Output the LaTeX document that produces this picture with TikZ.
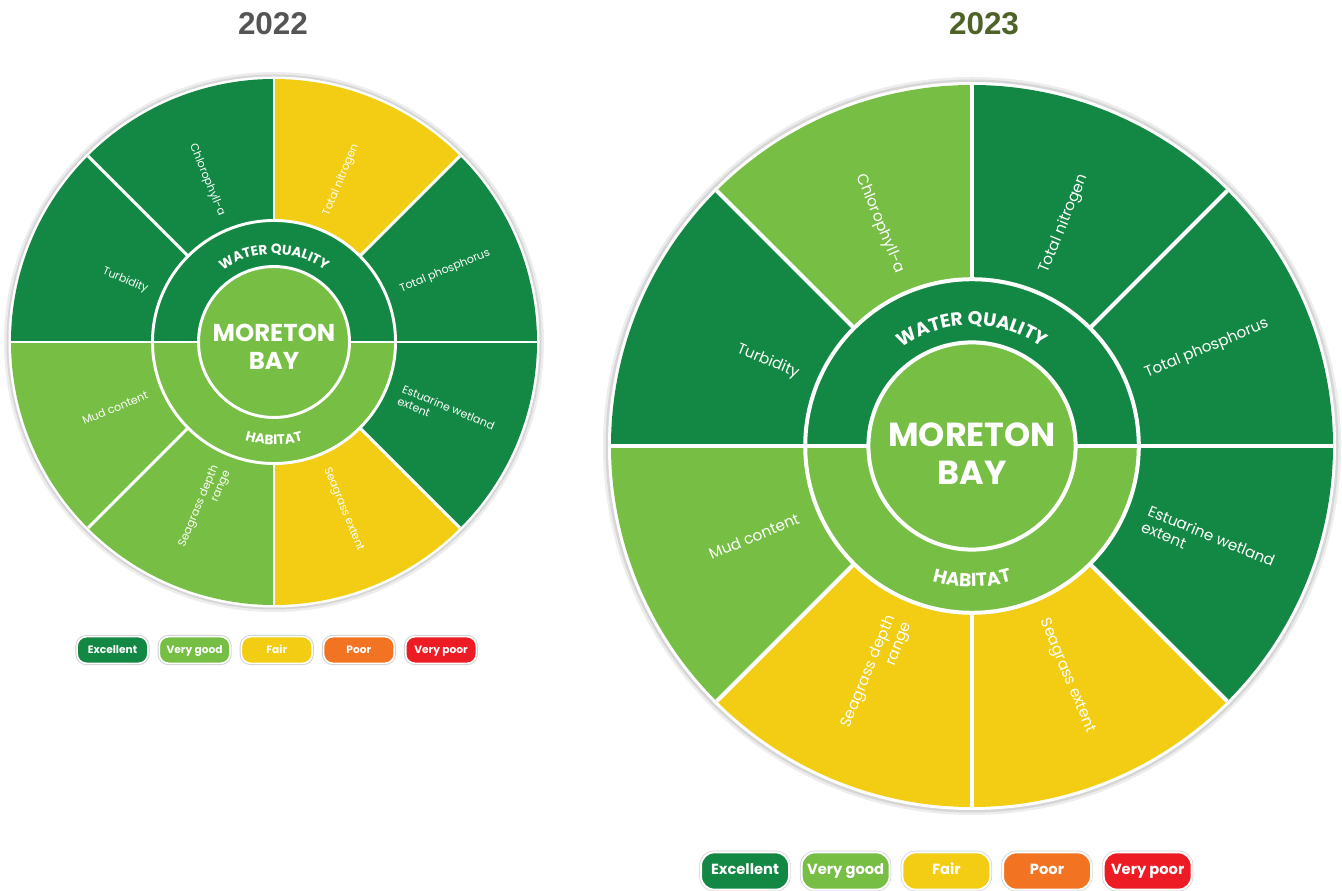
\documentclass[tikz,border=0pt]{standalone}
\usepackage{fontspec}
\setmainfont{Poppins}
\newfontfamily\titlefont{Liberation Sans}
\usepackage{tikz}
\usetikzlibrary{positioning}
\usetikzlibrary{decorations.text}

\definecolor{cExcellent}{RGB}{19,136,68}
\definecolor{cVeryGood}{RGB}{119,190,68}
\definecolor{cFair}{RGB}{242,205,20}
\definecolor{cPoor}{RGB}{242,115,33}
\definecolor{cVeryPoor}{RGB}{237,28,36}
\definecolor{grey22}{RGB}{85,85,85}
\definecolor{olive23}{RGB}{79,98,40}

\begin{document}
\begin{tikzpicture}[x=0.75pt,y=0.75pt,
  spoke/.style={draw=white,line width=#1},
  lbl/.style={text=white,inner sep=0pt},
  pill/.style={fill=#1,draw=white,text=white,inner sep=0pt,text height=0.72em,text depth=0.2em,preaction={draw=black!18,line width=2.6pt}},
  pill22/.style={pill=#1,minimum width=53pt,minimum height=20pt,rounded corners=7pt,line width=1.2pt,font=\bfseries\fontsize{8}{9}\selectfont},
  pill23/.style={pill=#1,minimum width=66pt,minimum height=28pt,rounded corners=10pt,line width=1.5pt,font=\bfseries\fontsize{11}{12}\selectfont},
  title/.style={font=\titlefont\bfseries\fontsize{23.6}{24}\selectfont}]
\useasboundingbox (0,0) rectangle (1342,890);

% 2022
\node[title,text=grey22] (t22) at (273,866) {2022};
\begin{scope}[shift={(274,548)},lbl22/.style={lbl,font=\fontsize{8.3}{9.6}\selectfont}]
 \def\R{263}
 \fill[black!7](0,0) circle[radius=\R+7];
 \fill[black!16](0,0) circle[radius=\R+4.5];
 \fill[white](0,0) circle[radius=\R+2.5];
 \foreach \a/\c in {0/cExcellent,45/cFair,90/cExcellent,135/cExcellent,180/cVeryGood,225/cVeryGood,270/cFair,315/cExcellent}
  \fill[\c](0,0)--(\a:\R) arc[start angle=\a,delta angle=45,radius=\R]--cycle;
 \foreach \a in {0,45,...,315}
  \draw[spoke=2.2pt](0,0)--(\a:\R);
 \fill[cExcellent](0.462*\R,0) arc[start angle=0,end angle=180,radius=0.462*\R]--cycle;
 \fill[cVeryGood](0.462*\R,0) arc[start angle=0,end angle=-180,radius=0.462*\R]--cycle;
 \draw[spoke=2.2pt](0,0) circle[radius=0.462*\R];
 \draw[spoke=2.2pt](-0.462*\R,0)--(0.462*\R,0);
 \draw[spoke=2.2pt,fill=cVeryGood](0,0) circle[radius=0.287*\R];
 \node[text=white,align=center,font=\bfseries\fontsize{18.3}{21}\selectfont] (mb22) at (0,-0.02*\R) {MORETON\\BAY};
 \path[decorate,decoration={text along path,text color=white,text align=center,
   text={|\bfseries\fontsize{10.2}{12}\selectfont|WATER QUALITY}}]
   (160:0.335*\R) arc[start angle=160,end angle=20,radius=0.335*\R];
 \path[decorate,decoration={text along path,text color=white,text align=center,
   text={|\bfseries\fontsize{10.2}{12}\selectfont|HABITAT}}]
   (200:0.39*\R) arc[start angle=200,end angle=340,radius=0.39*\R];
 \node[lbl22,anchor=west,rotate=22.5] (tp22) at (22.5:0.52*\R) {Total phosphorus};
 \node[lbl22,anchor=west,rotate=67.5] (tn22) at (67.5:0.52*\R) {Total nitrogen};
 \node[lbl22,anchor=east,rotate=-67.5] (ch22) at (112.5:0.52*\R) {Chlorophyll-a};
 \node[lbl22,anchor=east,rotate=-22.5] (tu22) at (157.5:0.52*\R) {Turbidity};
 \node[lbl22,anchor=east,rotate=22.5] (mc22) at (202.5:0.52*\R) {Mud content};
 \node[lbl22,anchor=east,rotate=67.5,align=right] (sd22) at (247.5:0.52*\R) {Seagrass depth\\range};
 \node[lbl22,anchor=west,rotate=-67.5] (se22) at (292.5:0.52*\R) {Seagrass extent};
 \node[lbl22,anchor=west,rotate=-22.5,align=left] (ew22) at (337.5:0.52*\R) {Estuarine wetland\\extent};
\end{scope}
\node[pill22=cExcellent] (ex22) at (112.5,240) {Excellent};
\node[pill22=cVeryGood,right=7.4pt of ex22] (vg22) {Very good};
\node[pill22=cFair,right=7.4pt of vg22] (fa22) {Fair};
\node[pill22=cPoor,right=7.4pt of fa22] (po22) {Poor};
\node[pill22=cVeryPoor,right=7.4pt of po22] (vp22) {Very poor};

% 2023
\node[title,text=olive23] (t23) at (984,866) {2023};
\begin{scope}[shift={(972,444)},lbl23/.style={lbl,font=\fontsize{11.4}{13.2}\selectfont}]
 \def\R{361}
 \fill[black!7](0,0) circle[radius=\R+8];
 \fill[black!16](0,0) circle[radius=\R+5.5];
 \fill[white](0,0) circle[radius=\R+3];
 \foreach \a/\c in {0/cExcellent,45/cExcellent,90/cVeryGood,135/cExcellent,180/cVeryGood,225/cFair,270/cFair,315/cExcellent}
  \fill[\c](0,0)--(\a:\R) arc[start angle=\a,delta angle=45,radius=\R]--cycle;
 \foreach \a in {0,45,...,315}
  \draw[spoke=3pt](0,0)--(\a:\R);
 \fill[cExcellent](0.462*\R,0) arc[start angle=0,end angle=180,radius=0.462*\R]--cycle;
 \fill[cVeryGood](0.462*\R,0) arc[start angle=0,end angle=-180,radius=0.462*\R]--cycle;
 \draw[spoke=3pt](0,0) circle[radius=0.462*\R];
 \draw[spoke=3pt](-0.462*\R,0)--(0.462*\R,0);
 \draw[spoke=3pt,fill=cVeryGood](0,0) circle[radius=0.287*\R];
 \node[text=white,align=center,font=\bfseries\fontsize{25}{28.5}\selectfont] (mb23) at (0,-0.02*\R) {MORETON\\BAY};
 \path[decorate,decoration={text along path,text color=white,text align=center,
   text={|\bfseries\fontsize{14}{16}\selectfont|WATER QUALITY}}]
   (160:0.335*\R) arc[start angle=160,end angle=20,radius=0.335*\R];
 \path[decorate,decoration={text along path,text color=white,text align=center,
   text={|\bfseries\fontsize{14}{16}\selectfont|HABITAT}}]
   (200:0.39*\R) arc[start angle=200,end angle=340,radius=0.39*\R];
 \node[lbl23,anchor=west,rotate=22.5] (tp23) at (22.5:0.52*\R) {Total phosphorus};
 \node[lbl23,anchor=west,rotate=67.5] (tn23) at (67.5:0.52*\R) {Total nitrogen};
 \node[lbl23,anchor=east,rotate=-67.5] (ch23) at (112.5:0.52*\R) {Chlorophyll-a};
 \node[lbl23,anchor=east,rotate=-22.5] (tu23) at (157.5:0.52*\R) {Turbidity};
 \node[lbl23,anchor=east,rotate=22.5] (mc23) at (202.5:0.52*\R) {Mud content};
 \node[lbl23,anchor=east,rotate=67.5,align=right] (sd23) at (247.5:0.52*\R) {Seagrass depth\\range};
 \node[lbl23,anchor=west,rotate=-67.5] (se23) at (292.5:0.52*\R) {Seagrass extent};
 \node[lbl23,anchor=west,rotate=-22.5,align=left] (ew23) at (337.5:0.52*\R) {Estuarine wetland\\extent};
\end{scope}
\node[pill23=cExcellent] (ex23) at (745,19) {Excellent};
\node[pill23=cVeryGood,right=8pt of ex23] (vg23) {Very good};
\node[pill23=cFair,right=8pt of vg23] (fa23) {Fair};
\node[pill23=cPoor,right=8pt of fa23] (po23) {Poor};
\node[pill23=cVeryPoor,right=8pt of po23] (vp23) {Very poor};
\end{tikzpicture}
\end{document}
